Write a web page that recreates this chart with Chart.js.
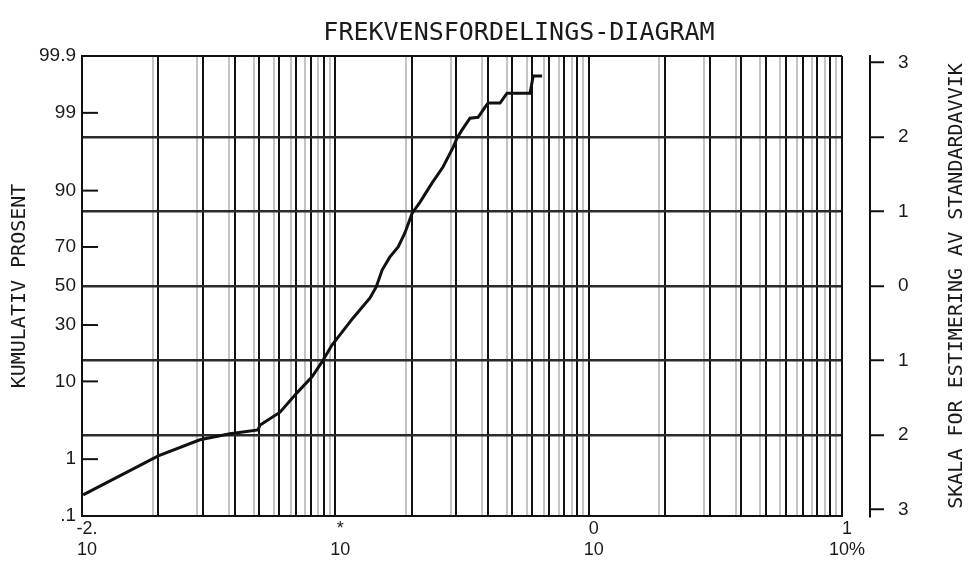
<!DOCTYPE html>
<html>
<head>
<meta charset="utf-8">
<script src="https://cdn.jsdelivr.net/npm/chart.js@4.4.0/dist/chart.umd.min.js"></script>
<style>
  html, body { margin: 0; padding: 0; background: #fff; }
  #wrap { width: 970px; height: 562px; }
</style>
</head>
<body>
<div id="wrap"><canvas id="frekvens" width="970" height="562"></canvas></div>
<script>
// Verdier lest av diagrammet (x i %, kumulativ prosent)
const storrelse = [0.0101, 0.0200, 0.0292, 0.0384, 0.0495, 0.0505, 0.0605, 0.0707, 0.0809, 0.0886,
                   0.097, 0.1175, 0.137, 0.145, 0.153, 0.164, 0.177, 0.188, 0.201, 0.216,
                   0.241, 0.266, 0.292, 0.302, 0.316, 0.340, 0.366, 0.390, 0.401, 0.447,
                   0.476, 0.587, 0.604, 0.655];
const kumProsent = [0.25, 1.12, 1.94, 2.35, 2.66, 3.1, 4.5, 7.6, 11.1, 15.4,
                    21.4, 33.4, 43.6, 49.5, 58.5, 65.1, 70.0, 76.1, 83.6, 87.0,
                    91.7, 94.5, 96.9, 97.65, 98.19, 98.79, 98.83, 99.19, 99.30, 99.30,
                    99.52, 99.52, 99.76, 99.76];

const xTickVerdier = [0.01, 0.1, 1, 10];
const xTickTekst = [['-2.', '10'], ['*', '10'], ['0', '10'], ['1', '10%']];
const yTickProsent = [0.1, 1, 10, 30, 50, 70, 90, 99, 99.9];
const yTickTekst = ['.1', '1', '10', '30', '50', '70', '90', '99', '99.9'];
const innerTickProsent = [1, 10, 30, 70, 90, 99];
const sigmaVerdier = [3, 2, 1, 0, -1, -2, -3];
const sigmaTekst = ['3', '2', '1', '0', '1', '2', '3'];

// invers normalfordeling (Acklam)
function probit(p) {
  const a = [-3.969683028665376e+01, 2.209460984245205e+02, -2.759285104469687e+02, 1.383577518672690e+02, -3.066479806614716e+01, 2.506628277459239e+00];
  const b = [-5.447609879822406e+01, 1.615858368580409e+02, -1.556989798598866e+02, 6.680131188771972e+01, -1.328068155288572e+01];
  const c = [-7.784894002430293e-03, -3.223964580411365e-01, -2.400758277161838e+00, -2.549732539343734e+00, 4.374664141464968e+00, 2.938163982698783e+00];
  const d = [7.784695709041462e-03, 3.224671290700398e-01, 2.445134137142996e+00, 3.754408661907416e+00];
  const pl = 0.02425;
  if (p < pl) {
    const q = Math.sqrt(-2 * Math.log(p));
    return (((((c[0]*q+c[1])*q+c[2])*q+c[3])*q+c[4])*q+c[5]) / ((((d[0]*q+d[1])*q+d[2])*q+d[3])*q+1);
  }
  if (p > 1 - pl) {
    const q = Math.sqrt(-2 * Math.log(1 - p));
    return -(((((c[0]*q+c[1])*q+c[2])*q+c[3])*q+c[4])*q+c[5]) / ((((d[0]*q+d[1])*q+d[2])*q+d[3])*q+1);
  }
  const q = p - 0.5, r = q * q;
  return (((((a[0]*r+a[1])*r+a[2])*r+a[3])*r+a[4])*r+a[5])*q / (((((b[0]*r+b[1])*r+b[2])*r+b[3])*r+b[4])*r+1);
}

const sigMin = probit(0.001);
const sigMax = probit(0.999);

// log-rutenett 1..9 per dekade
const rutenett = [];
[-2, -1, 0].forEach(k => {
  for (let m = 1; m <= 9; m++) rutenett.push(Number((m * Math.pow(10, k)).toPrecision(3)));
});
rutenett.push(10);
const skift = Math.pow(10, 5.5 / 253.3); // skygge-linjer fra skanningen

const tekstFarge = '#1a1a1a';

const ekstraTekst = {
  id: 'ekstraTekst',
  afterDraw(chart) {
    const ctx = chart.ctx;
    const ca = chart.chartArea;
    const y = chart.scales.y;
    ctx.save();
    ctx.strokeStyle = '#111';
    ctx.lineWidth = 2;
    innerTickProsent.forEach(p => {
      const py = y.getPixelForValue(probit(p / 100));
      ctx.beginPath();
      ctx.moveTo(ca.left, py);
      ctx.lineTo(ca.left + 16, py);
      ctx.stroke();
    });
    ctx.fillStyle = tekstFarge;
    ctx.textAlign = 'center';
    ctx.textBaseline = 'middle';
    ctx.font = '25px "DejaVu Sans Mono"';
    ctx.fillText('FREKVENSFORDELINGS-DIAGRAM', 519, 33);
    ctx.translate(957, (ca.top + ca.bottom) / 2);
    ctx.rotate(-Math.PI / 2);
    ctx.font = '20px "DejaVu Sans Mono"';
    ctx.fillText('SKALA FOR ESTIMERING AV STANDARDAVVIK', 0, 0);
    ctx.restore();
  }
};

const tickFont = { family: 'Liberation Sans', size: 19 };

new Chart(document.getElementById('frekvens'), {
  type: 'line',
  data: {
    datasets: [{
      data: storrelse.map((v, i) => ({ x: v, y: probit(kumProsent[i] / 100) })),
      xAxisID: 'x',
      yAxisID: 'y',
      borderColor: '#111',
      borderWidth: 3,
      pointRadius: 0,
      fill: false,
      tension: 0
    }]
  },
  options: {
    responsive: false,
    animation: false,
    layout: { padding: { top: 56, left: 0, right: 0, bottom: 0 } },
    plugins: { legend: { display: false }, tooltip: { enabled: false } },
    scales: {
      xg: {
        type: 'logarithmic', position: 'bottom', weight: 1,
        min: 0.01 * skift, max: 10 * skift,
        afterBuildTicks: s => { s.ticks = rutenett.filter(v => v > 0.01).map(v => ({ value: v })); },
        afterFit: s => { s.height = 0; },
        grid: { color: '#c4c4c4', lineWidth: 2, drawTicks: false },
        border: { display: false },
        ticks: { display: false }
      },
      x: {
        type: 'logarithmic', position: 'bottom', weight: 0,
        min: 0.01, max: 10,
        afterBuildTicks: s => { s.ticks = rutenett.map(v => ({ value: v })); },
        afterFit: s => { s.height = 46; },
        grid: { color: '#111', lineWidth: 2, drawTicks: false },
        border: { display: true, color: '#111', width: 2 },
        ticks: {
          autoSkip: false, maxRotation: 0, padding: 2, labelOffset: 5,
          color: tekstFarge, font: { family: 'Liberation Sans', size: 18 },
          callback: v => {
            const i = xTickVerdier.findIndex(t => Math.abs(t - v) / t < 1e-6);
            return i >= 0 ? xTickTekst[i] : '';
          }
        }
      },
      y: {
        type: 'linear', position: 'left',
        min: sigMin, max: sigMax,
        afterBuildTicks: s => { s.ticks = yTickProsent.map(p => ({ value: probit(p / 100) })); },
        afterFit: s => { s.width = 82; },
        grid: {
          color: c => (c.index === 0 || c.index === yTickProsent.length - 1) ? '#111' : 'transparent',
          lineWidth: 2, drawTicks: false
        },
        border: { display: true, color: '#111', width: 2 },
        ticks: { padding: 6, color: tekstFarge, font: tickFont, callback: (v, i) => yTickTekst[i] },
        title: {
          display: true, text: 'KUMULATIV PROSENT', color: tekstFarge,
          font: { family: 'DejaVu Sans Mono', size: 20 },
          padding: { top: 8, bottom: 0 }
        }
      },
      mellom: {
        type: 'linear', position: 'right', weight: 0,
        afterFit: s => { s.width = 28; },
        grid: { display: false },
        border: { display: false },
        ticks: { display: false }
      },
      y2: {
        type: 'linear', position: 'right', weight: 1,
        min: sigMin, max: sigMax,
        afterBuildTicks: s => { s.ticks = sigmaVerdier.map(v => ({ value: v })); },
        afterFit: s => { s.width = 100; },
        grid: {
          color: c => Math.abs(c.tick.value) === 3 ? 'transparent' : '#2b2b2b',
          tickColor: '#111', lineWidth: 2.5, tickWidth: 2, tickLength: 14
        },
        border: { display: true, color: '#111', width: 2 },
        ticks: { padding: 14, color: tekstFarge, font: tickFont, callback: (v, i) => sigmaTekst[i] }
      }
    }
  },
  plugins: [ekstraTekst]
});
</script>
</body>
</html>
